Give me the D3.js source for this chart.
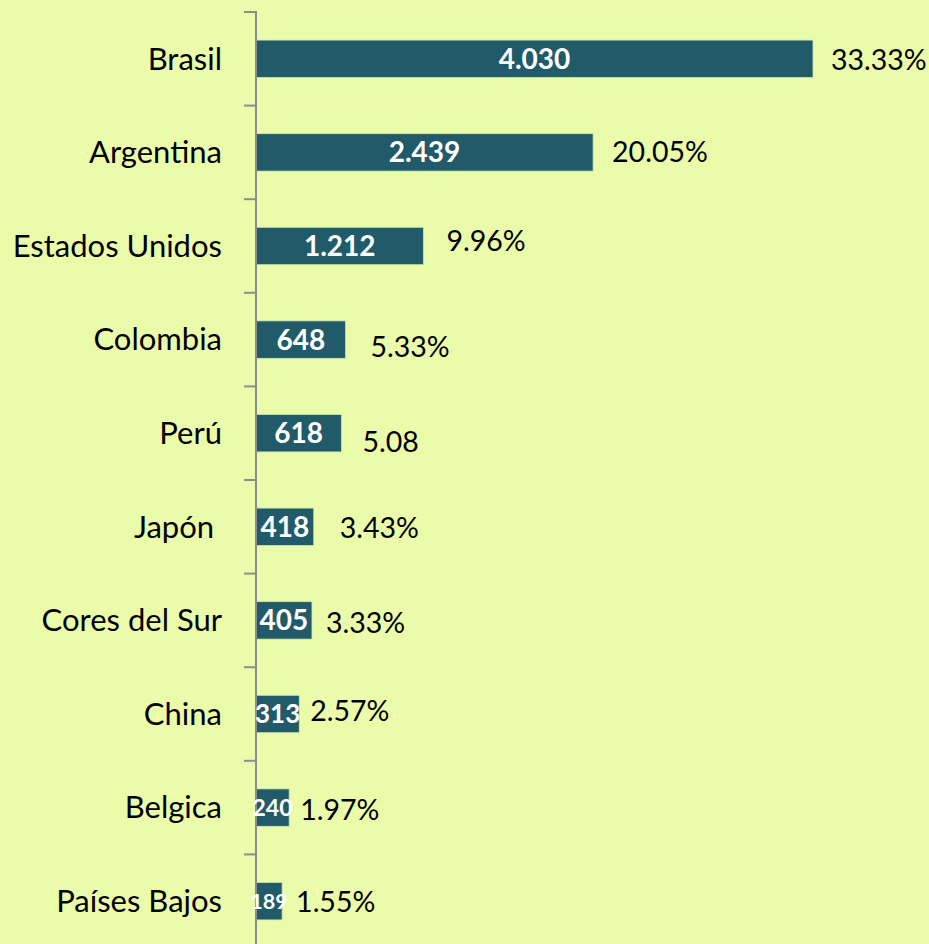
<!DOCTYPE html>
<html lang="es">
<head>
    <meta charset="UTF-8">
    <title>Exportaciones por destino</title>
    <style>
        html, body { margin: 0; padding: 0; background: #eafca9; }
        svg { display: block; }
    </style>
</head>
<body>
<svg width="929" height="944"></svg>

<script src="https://cdn.jsdelivr.net/npm/d3@7"></script>
<script>
    const paises = ["Brasil", "Argentina", "Estados Unidos", "Colombia", "Perú",
        "Japón ", "Cores del Sur", "China", "Belgica", "Países Bajos"];
    const valores = [4030, 2439, 1212, 648, 618, 418, 405, 313, 240, 189];
    const etiquetas = ["4.030", "2.439", "1.212", "648", "618", "418", "405", "313", "240", "189"];
    const porcentajes = ["33.33%", "20.05%", "9.96%", "5.33%", "5.08", "3.43%", "3.33%", "2.57%", "1.97%", "1.55%"];

    // hand-placed percentage labels, [dx, dy] from the bar end
    const nudge = [[18, 1], [19, 0], [23, -5], [25, 7], [21, 9], [26, 1], [14, 3], [11, -3], [11, 2], [14, 1]];

    const width = 929, height = 944;
    const font = "Lato, 'Open Sans', sans-serif";

    const svg = d3.select("svg");

    const x = d3.scaleLinear()
        .domain([0, d3.max(valores)])
        .range([256, 813]);

    const y = d3.scaleBand()
        .domain(paises)
        .range([12, 948])
        .paddingInner(0.6)
        .paddingOuter(0.3);

    // narrow bars get a smaller value label
    const labelSize = d3.scaleLinear().domain([26, 43]).range([21.5, 26]).clamp(true);

    const data = paises.map((p, i) => ({pais: p, valor: valores[i], etiqueta: etiquetas[i], pct: porcentajes[i], n: nudge[i]}));

    // bars
    svg.append("g")
        .selectAll("rect")
        .data(data)
        .join("rect")
        .attr("x", x(0))
        .attr("y", d => y(d.pais))
        .attr("width", d => x(d.valor) - x(0))
        .attr("height", y.bandwidth())
        .attr("fill", "#215a69")
        .attr("stroke", "#cfe9b0")
        .attr("stroke-width", 0.8);

    // axis: vertical line plus ticks on the category boundaries
    const gap = (y.step() - y.bandwidth()) / 2;
    const bordes = paises.map(p => y(p) - gap).concat([y(paises[paises.length - 1]) + y.bandwidth() + gap]);
    const eje = svg.append("g").attr("stroke", "#8c8c8c").attr("stroke-width", 2);
    eje.append("line")
        .attr("x1", x(0)).attr("x2", x(0))
        .attr("y1", bordes[0] - 1).attr("y2", height);
    eje.selectAll("line.tick")
        .data(bordes)
        .join("line")
        .attr("class", "tick")
        .attr("x1", x(0) - 12).attr("x2", x(0))
        .attr("y1", d => d).attr("y2", d => d);

    // category labels
    svg.append("g")
        .selectAll("text")
        .data(data)
        .join("text")
        .attr("x", 222)
        .attr("y", d => y(d.pais) + y.bandwidth() / 2)
        .attr("dy", "0.35em")
        .attr("text-anchor", "end")
        .style("white-space", "pre")
        .style("font", `31px ${font}`)
        .attr("fill", "#000")
        .text(d => d.pais);

    // values inside bars
    svg.append("g")
        .selectAll("text")
        .data(data)
        .join("text")
        .attr("x", d => (x(0) + x(d.valor)) / 2)
        .attr("y", d => y(d.pais) + y.bandwidth() / 2)
        .attr("dy", "0.36em")
        .attr("text-anchor", "middle")
        .style("font", d => {
            const w = x(d.valor) - x(0);
            return `bold ${w < 50 ? labelSize(w) : 28}px ${font}`;
        })
        .attr("fill", "#fff")
        .text(d => d.etiqueta);

    // percentages
    svg.append("g")
        .selectAll("text")
        .data(data)
        .join("text")
        .attr("x", d => x(d.valor) + d.n[0])
        .attr("y", d => y(d.pais) + y.bandwidth() / 2 + d.n[1])
        .attr("dy", "0.35em")
        .style("font", `28.5px ${font}`)
        .attr("fill", "#000")
        .text(d => d.pct);
</script>
</body>
</html>
